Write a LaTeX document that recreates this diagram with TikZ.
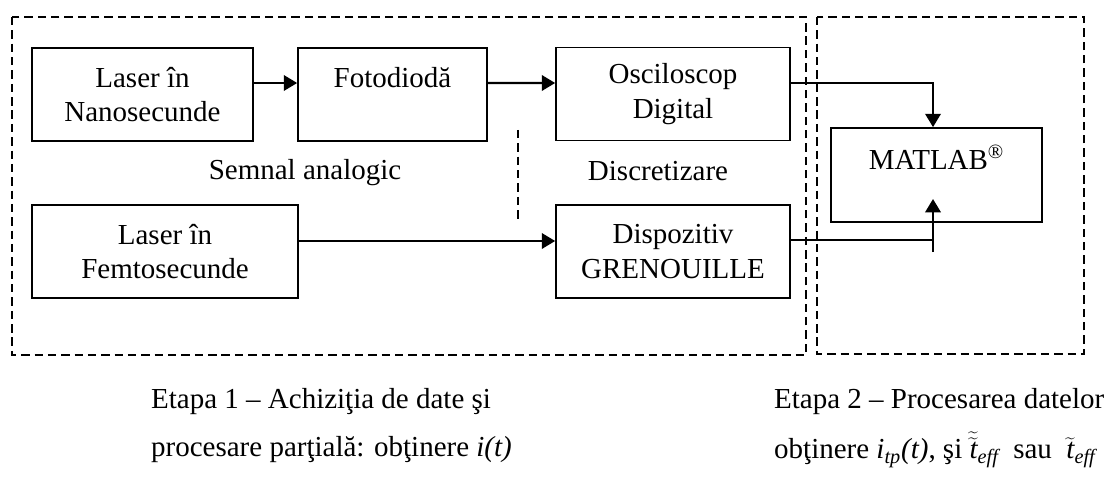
\documentclass[tikz,border=0pt]{standalone}
\usepackage{fontspec}
\setmainfont{Liberation Serif}
\usepackage{tikz}
\usetikzlibrary{
	arrows.meta,
	calc,
	positioning
}

\begin{document}
\begin{tikzpicture}[x=0.02cm, y=-0.02cm,
		font=\fontsize{16.5}{19.8}\selectfont,
		block/.style={draw, line width=1pt, align=center, minimum height=1.86cm, inner sep=0pt},
		frame/.style={line width=0.65pt, dash pattern=on 4.8pt off 2.8pt},
		arr/.style={line width=1.25pt, -{Triangle[length=7.6pt, width=8.8pt]}},
		line/.style={line width=0.85pt}]
		\useasboundingbox (0,0) rectangle (1104,486);
		
		% the two stages
		\draw[frame] (12,17) rectangle (806,355);
		\draw[frame] (817,17) rectangle (1084,354);
		
		\node[block, minimum width=4.42cm] (lasns) at (142.5,94.5) {Laser în\\Nanosecunde};
		\node[block, minimum width=3.78cm] (foto) at (392.5,94.5) {Fotodiodă\\\mbox{}};
		\node[block, minimum width=4.68cm] (osc) at (673,94) {Osciloscop\\Digital};
		\node[block, minimum width=5.32cm] (lasfs) at (165,251.5) {Laser în\\Femtosecunde};
		\node[block, minimum width=4.68cm] (gren) at (673,251.5) {Dispozitiv\\GRENOUILLE};
		\node[block, minimum width=4.22cm, minimum height=1.88cm] (matlab) at (936.5,175) {MATLAB\textsuperscript{\textregistered}\\\mbox{}};
		
		\node (analog) at (305,173) {Semnal analogic};
		\node (discret) at (658,171) {Discretizare};
		
		\coordinate (sepA) at (518,130);
		\coordinate (sepB) at (518,220);
		\draw[frame] (sepA) -- (sepB);
		
		\draw[arr] ([yshift=0.23cm]lasns.east) -- ([yshift=0.23cm]foto.west);
		\draw[arr] ([yshift=0.23cm]foto.east) -- ([yshift=0.22cm]osc.west);
		\draw[arr] ([yshift=0.21cm]lasfs.east) -- ([yshift=0.21cm]gren.west);
		
		% into MATLAB
		\coordinate (mlow) at (933,252);
		\coordinate (mtip) at (933,199);
		\draw[line, arr] ([yshift=0.22cm]osc.east) -| ([xshift=-0.07cm]matlab.north);
		\draw[line] ([yshift=0.23cm]gren.east) -| (mlow);
		\draw[arr] (mlow) -- (mtip);
		
		\node[anchor=west] (et1a) at (145,402) {Etapa 1 – Achiziţia de date şi};
		\node[anchor=west] (et1b) at (145,450) {procesare parţială: obţinere \textit{i(t)}};
		\node[anchor=west] (et2a) at (768,402) {Etapa 2 – Procesarea datelor};
		\node[anchor=west] (et2b) at (768,450) {obţinere \textit{i}\textsubscript{\textit{tp}}\textit{(t)}, şi\ $\widetilde{\widetilde{\mathit{t}}}_{\mathit{eff}}$\ \ sau\ \ $\widetilde{\mathit{t}}_{\mathit{eff}}$};
	\end{tikzpicture}
\end{document}
